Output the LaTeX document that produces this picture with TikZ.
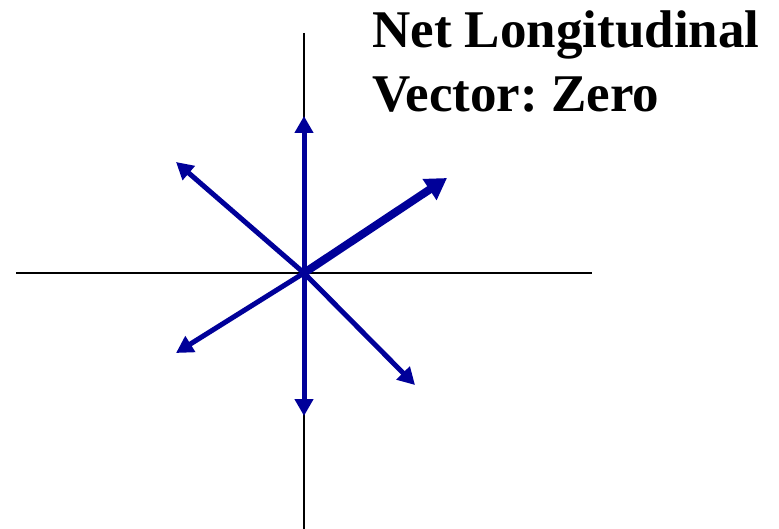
\documentclass[tikz,border=0pt]{standalone}
\usepackage{fontspec}
\setmainfont{Liberation Serif}
\usetikzlibrary{arrows.meta}
\definecolor{vecblue}{RGB}{0,0,153}
\tikzset{
  axis/.style={draw=black, line width=1.6pt},
  vec/.style={draw=vecblue, line width=5pt, -{Triangle[length=17pt,width=18pt]}},
  bigvec/.style={draw=vecblue, line width=8pt, -{Triangle[length=21pt,width=24pt]}},
  title/.style={anchor=base west, font=\bfseries\fontsize{53}{65}\selectfont, inner sep=0pt, align=left}
}
\frenchspacing
\begin{document}
\begin{tikzpicture}[x=1pt,y=-1pt]
\useasboundingbox (0,0) rectangle (779,529);
\coordinate (O) at (304,273);
\coordinate (axL) at (16,273);
\coordinate (axR) at (592,273);
\coordinate (axT) at (304,33);
\coordinate (axB) at (304,529);
\coordinate (tU) at (304,116);
\coordinate (tD) at (304,416);
\coordinate (tUL) at (176,162);
\coordinate (tDL) at (176,353);
\coordinate (tUR) at (447,178);
\coordinate (tDR) at (415,385);
\draw[axis] (axL) -- (axR);
\draw[axis] (axT) -- (axB);
\draw[vec] (O) -- (tU);
\draw[vec] (O) -- (tD);
\draw[vec] (O) -- (tUL);
\draw[vec] (O) -- (tDL);
\draw[vec] (O) -- (tDR);
\draw[bigvec] (O) -- (tUR);
\node[title] (t1) at (372,48) {Net Longitudinal};
\node[title] (t2) at (372,112) {Vector: Zero};
\end{tikzpicture}
\end{document}
